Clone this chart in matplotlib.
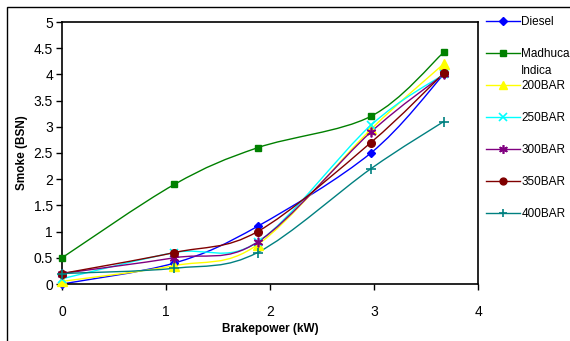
import numpy as np
import matplotlib.pyplot as plt
from matplotlib.path import Path
from matplotlib.patches import PathPatch, Rectangle
from matplotlib.lines import Line2D

plt.rcParams["font.family"] = ["Liberation Sans", "DejaVu Sans"]

# brake power (kW) at which smoke was measured
brakepower = [0.0, 1.08, 1.88, 2.97, 3.67]

# smoke (BSN) per fuel / injection pressure
diesel = [0.0, 0.4, 1.1, 2.5, 4.0]
madhuca = [0.5, 1.9, 2.6, 3.2, 4.42]
bar200 = [0.05, 0.35, 0.75, 2.95, 4.2]
bar250 = [0.1, 0.6, 0.8, 3.03, 4.0]
bar300 = [0.2, 0.5, 0.8, 2.9, 4.0]
bar350 = [0.2, 0.6, 1.0, 2.7, 4.02]
bar400 = [0.2, 0.3, 0.6, 2.2, 3.1]

labels = ["Diesel", "Madhuca", "200BAR", "250BAR", "300BAR", "350BAR", "400BAR"]
series = [diesel, madhuca, bar200, bar250, bar300, bar350, bar400]

styles = [
    dict(color="#0000FF", marker="D", ms=4.5),
    dict(color="#008000", marker="s", ms=5),
    dict(color="#FFFF00", marker="^", ms=7),
    dict(color="#00FFFF", marker="x", ms=6, mew=1.2),
    dict(color="#800080", marker=(6, 2, 0), ms=7, mew=1.2),
    dict(color="#800000", marker="o", ms=5.5),
    dict(color="#008080", marker="+", ms=7, mew=1.2),
]


def smooth_path(xs, ys, t=1 / 6):
    # Excel-style smoothed line: cubic Bezier through every point
    pts = np.column_stack([xs, ys])
    verts = [pts[0]]
    codes = [Path.MOVETO]
    n = len(pts)
    for i in range(n - 1):
        p0 = pts[i - 1] if i > 0 else pts[i]
        p1, p2 = pts[i], pts[i + 1]
        p3 = pts[i + 2] if i + 2 < n else pts[i + 1]
        c1 = p1 + (p2 - p0) * t
        c2 = p2 - (p3 - p1) * t
        verts += [c1, c2, p2]
        codes += [Path.CURVE4] * 3
    return Path(verts, codes)


fig = plt.figure(figsize=(5.7, 3.41), dpi=100)
ax = fig.add_axes([62 / 570, 1 - 284 / 341, 416 / 570, 262 / 341])

handles = []
for lab, ys, st in zip(labels, series, styles):
    patch = PathPatch(smooth_path(brakepower, ys), fill=False,
                      edgecolor=st["color"], lw=1.0, zorder=2)
    ax.add_patch(patch)
    ax.plot(brakepower, ys, linestyle="none", marker=st["marker"],
            markersize=st["ms"], color=st["color"],
            markeredgewidth=st.get("mew", 1.0), zorder=3, clip_on=False)
    handles.append(Line2D([], [], color=st["color"], lw=1.0, marker=st["marker"],
                          markersize=st["ms"] * 0.9, markeredgewidth=st.get("mew", 1.0)))

ax.set_xlim(0, 4)
ax.set_ylim(0, 5)
ax.set_xticks([0, 1, 2, 3, 4])
ax.set_yticks(np.arange(0, 5.01, 0.5))
ax.set_yticklabels(["0", "0.5", "1", "1.5", "2", "2.5", "3", "3.5", "4", "4.5", "5"])
ax.tick_params(direction="out", length=4, width=1, labelsize=10)
ax.tick_params(axis="x", pad=11)
ax.tick_params(axis="y", pad=2.5)
for sp in ax.spines.values():
    sp.set_linewidth(1.2)
    sp.set_color("black")

ax.set_xlabel("Brakepower (kW)", fontsize=8.5, fontweight="bold", labelpad=3)
ax.set_ylabel("Smoke (BSN)", fontsize=8.5, fontweight="bold", labelpad=4)

leg = fig.legend(handles, labels, loc="upper left", bbox_to_anchor=(486 / 570, 1 - 16 / 341),
                 frameon=False, fontsize=8.5, handlelength=2.9, handletextpad=0.1,
                 labelspacing=1.7, borderaxespad=0, borderpad=0)
fig.text(521 / 570, 1 - 71 / 341, "Indica", fontsize=8.5, va="center", ha="left")

# outer chart border (only top and left edges fall inside the image)
fig.patches.append(Rectangle((7 / 570, -0.1), 1.2, 1 - 7 / 341 + 0.1,
                             transform=fig.transFigure, fill=False,
                             edgecolor="black", lw=1.0))

fig.savefig("out.png", dpi=100)
